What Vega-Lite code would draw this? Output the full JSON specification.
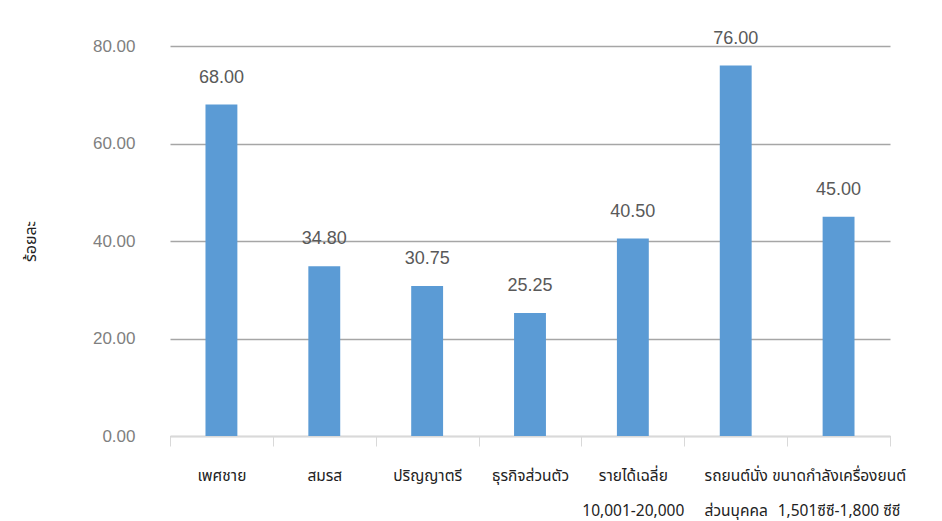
{
  "$schema": "https://vega.github.io/schema/vega-lite/v6.json",
  "autosize": {"type": "none"},
  "width": 720,
  "height": 390,
  "padding": {"left": 170, "top": 46, "right": 52, "bottom": 85},
  "background": "white",
  "config": {"view": {"stroke": null}, "font": "Liberation Sans"},
  "data": {
    "values": [
      {"cat": "เพศชาย", "value": 68.00, "order": 1},
      {"cat": "สมรส", "value": 34.80, "order": 2},
      {"cat": "ปริญญาตรี", "value": 30.75, "order": 3},
      {"cat": "ธุรกิจส่วนตัว", "value": 25.25, "order": 4},
      {"cat": "รายได้เฉลี่ย", "value": 40.50, "order": 5},
      {"cat": "รถยนต์นั่ง", "value": 76.00, "order": 6},
      {"cat": "ขนาดกำลังเครื่องยนต์", "value": 45.00, "order": 7}
    ]
  },
  "encoding": {
    "x": {
      "field": "cat",
      "type": "nominal",
      "sort": {"field": "order"},
      "scale": {"paddingInner": 0, "paddingOuter": 0},
      "axis": {
        "title": null,
        "labelAngle": 0,
        "labelFont": "Tahoma, Noto Sans Thai, sans-serif",
        "labelFontSize": 15.5,
        "labelColor": "#222222",
        "labelExpr": "datum.value == 'รายได้เฉลี่ย' ? ['รายได้เฉลี่ย', '10,001-20,000'] : datum.value == 'รถยนต์นั่ง' ? ['รถยนต์นั่ง', 'ส่วนบุคคล'] : datum.value == 'ขนาดกำลังเครื่องยนต์' ? ['ขนาดกำลังเครื่องยนต์', '1,501ซีซี-1,800 ซีซี'] : datum.value",
        "labelLineHeight": 35,
        "labelPadding": 29,
        "labelBaseline": "middle",
        "tickBand": "extent",
        "tickSize": 10,
        "tickColor": "#D9D9D9",
        "domainColor": "#D9D9D9",
        "labelLimit": 220
      }
    },
    "y": {
      "field": "value",
      "type": "quantitative",
      "scale": {"domain": [0, 80]},
      "axis": {
        "title": "ร้อยละ",
        "titleFont": "Tahoma, Noto Sans Thai, sans-serif",
        "titleFontSize": 16,
        "titleFontWeight": "normal",
        "titleColor": "#222222",
        "titleX": -140,
        "titleY": 195,
        "titleAngle": -90,
        "titleAlign": "center",
        "titleBaseline": "middle",
        "values": [0, 20, 40, 60, 80],
        "format": ".2f",
        "labelFontSize": 17,
        "labelColor": "#7F7F7F",
        "labelPadding": 35,
        "ticks": false,
        "domain": false,
        "grid": true,
        "gridColor": "#A6A6A6",
        "gridWidth": 1.3
      }
    }
  },
  "layer": [
    {"mark": {"type": "bar", "color": "#5B9BD5", "width": {"band": 0.31}}},
    {
      "mark": {"type": "text", "dy": -22, "fontSize": 18, "color": "#595959", "baseline": "alphabetic"},
      "encoding": {"text": {"field": "value", "type": "quantitative", "format": ".2f"}}
    }
  ]
}
